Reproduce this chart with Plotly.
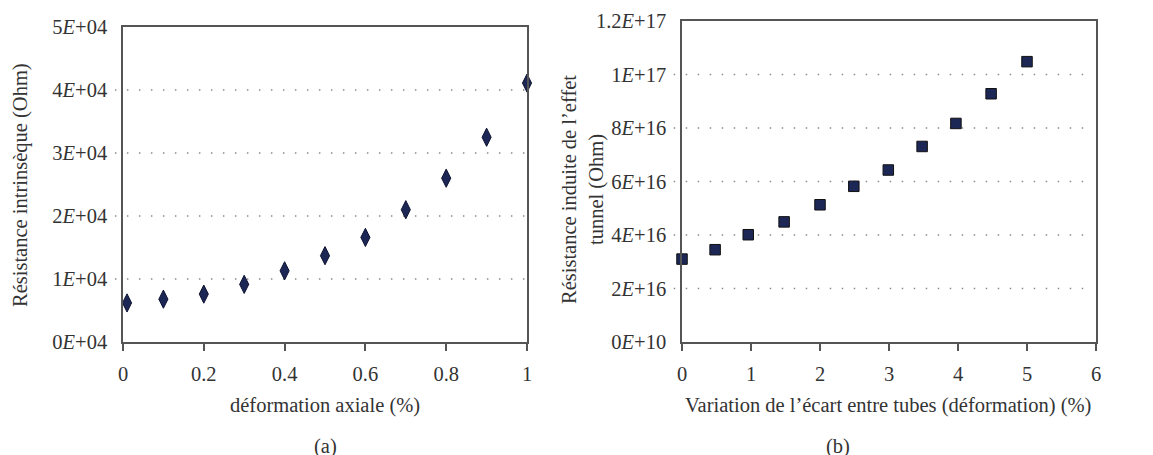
import plotly.graph_objects as go

# Panel (a)
strain_a = [0.01, 0.1, 0.2, 0.3, 0.4, 0.5, 0.6, 0.7, 0.8, 0.9, 1.0]
res_a = [6200, 6800, 7600, 9150, 11300, 13700, 16600, 21000, 26000, 32500, 41100]
yticks_a = [0, 10000, 20000, 30000, 40000, 50000]
ylabels_a = ["0<i>E</i>+04", "1<i>E</i>+04", "2<i>E</i>+04", "3<i>E</i>+04", "4<i>E</i>+04", "5<i>E</i>+04"]
xticks_a = [0, 0.2, 0.4, 0.6, 0.8, 1]
xlabels_a = ["0", "0.2", "0.4", "0.6", "0.8", "1"]

# Panel (b)
strain_b = [0, 0.48, 0.96, 1.48, 2.0, 2.49, 2.99, 3.48, 3.97, 4.48, 5.0]
res_b = [3.10e16, 3.45e16, 4.01e16, 4.49e16, 5.13e16, 5.82e16, 6.43e16, 7.31e16, 8.17e16, 9.28e16, 1.048e17]
yticks_b = [0, 2e16, 4e16, 6e16, 8e16, 1e17, 1.2e17]
ylabels_b = ["0<i>E</i>+10", "2<i>E</i>+16", "4<i>E</i>+16", "6<i>E</i>+16", "8<i>E</i>+16", "1<i>E</i>+17", "1.2<i>E</i>+17"]
xticks_b = [0, 1, 2, 3, 4, 5, 6]

W, H = 1153, 455
OFF = 8  # page body margin
FONT = "Liberation Serif"
TXT = "#333333"
NAVY = "#1d2755"
TICKSIZE = 20.5
TITLESIZE = 20.5

fig = go.Figure()
fig.add_trace(go.Scatter(x=strain_a, y=res_a, mode="markers", xaxis="x", yaxis="y",
                         cliponaxis=False,
                         marker=dict(symbol="diamond-tall", size=13, color=NAVY,
                                     line=dict(color="#0d1230", width=1)),
                         showlegend=False))
fig.add_trace(go.Scatter(x=strain_b, y=res_b, mode="markers", xaxis="x2", yaxis="y2",
                         cliponaxis=False,
                         marker=dict(symbol="square", size=10.5, color=NAVY,
                                     line=dict(color="#111111", width=1)),
                         showlegend=False))

def px_x(v):
    return (v - OFF) / W

def px_y(v):
    return 1 - (v - OFF) / H

axis_common = dict(showline=True, linecolor="#555555", linewidth=1.5, mirror=True,
                   showgrid=False, zeroline=False, automargin=False,
                   ticklabeloverflow="allow",
                   tickfont=dict(family=FONT, size=TICKSIZE, color=TXT))

fig.update_layout(
    template="none",
    width=W, height=H,
    margin=dict(l=0, r=0, t=0, b=0, autoexpand=False),
    paper_bgcolor="white", plot_bgcolor="white",
    font=dict(family=FONT, color=TXT),
    xaxis=dict(domain=[px_x(123), px_x(527)], range=[0, 1], anchor="y",
               tickvals=xticks_a, ticktext=xlabels_a, ticks="outside", ticklen=7,
               tickwidth=1.5, tickcolor="#555555", ticklabelstandoff=6, **axis_common),
    yaxis=dict(domain=[px_y(342), px_y(27)], range=[0, 50000], anchor="x",
               tickvals=yticks_a, ticktext=ylabels_a, ticks="", ticklabelstandoff=10,
               **axis_common),
    xaxis2=dict(domain=[px_x(682), px_x(1096)], range=[0, 6], anchor="y2",
                tickvals=xticks_b, ticks="outside", ticklen=7,
                tickwidth=1.5, tickcolor="#555555", ticklabelstandoff=6, **axis_common),
    yaxis2=dict(domain=[px_y(342), px_y(21)], range=[0, 1.2e17], anchor="x2",
                tickvals=yticks_b, ticktext=ylabels_b, ticks="", ticklabelstandoff=10,
                **axis_common),
)

# dotted gridlines, extending slightly left of the axis
GRID = dict(color="#8a8a8a", width=1.5, dash="1.5px,10.5px")
for v in yticks_a[1:-1]:
    fig.add_shape(type="line", xref="x domain", yref="y", x0=-0.02, x1=1, y0=v, y1=v,
                  line=GRID, layer="below")
for v in yticks_b[1:-1]:
    fig.add_shape(type="line", xref="x2 domain", yref="y2", x0=-0.02, x1=0.99, y0=v, y1=v,
                  line=GRID, layer="below")

def ann(text, x, y, size=TITLESIZE, angle=0):
    fig.add_annotation(text=text, x=px_x(x), y=px_y(y), xref="paper", yref="paper",
                       showarrow=False, textangle=angle,
                       font=dict(family=FONT, size=size, color=TXT),
                       xanchor="center", yanchor="middle")

ann("Résistance intrinsèque (Ohm)", 21, 185, angle=-90)
ann("Résistance induite de l’effet<br>tunnel (Ohm)", 583, 190, angle=-90)
ann("déformation axiale (%)", 325, 405)
ann("Variation de l’écart entre tubes (déformation) (%)", 888, 405)
ann("(a)", 325, 446)
ann("(b)", 838, 446)

fig.write_html("out.html")
